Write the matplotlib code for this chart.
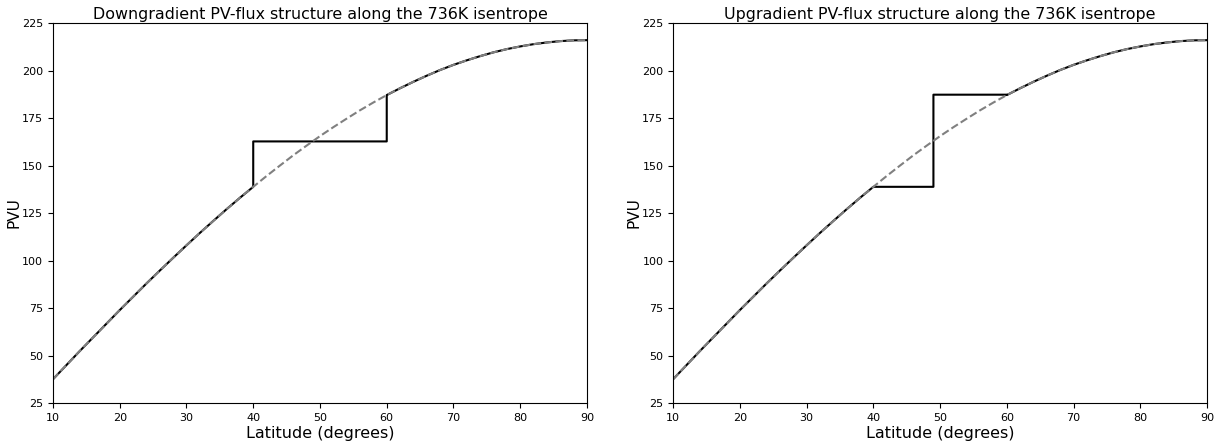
import matplotlib
matplotlib.use("Agg")
import matplotlib.pyplot as plt
import numpy as np

# background PV profile along the isentrope (PVU), every 2 degrees latitude
lat = [10, 12, 14, 16, 18, 20, 22, 24, 26, 28, 30, 32, 34, 36, 38, 40, 42, 44,
       46, 48, 50, 52, 54, 56, 58, 60, 62, 64, 66, 68, 70, 72, 74, 76, 78, 80,
       82, 84, 86, 88, 90]
pv = [37.5, 44.9, 52.3, 59.5, 66.7, 73.9, 80.9, 87.9, 94.7, 101.4, 108.0,
      114.5, 120.8, 127.0, 133.0, 138.8, 144.5, 150.0, 155.4, 160.5, 165.5,
      170.2, 174.7, 179.1, 183.2, 187.1, 190.7, 194.1, 197.3, 200.3, 203.0,
      205.4, 207.6, 209.6, 211.3, 212.7, 213.9, 214.8, 215.5, 215.9, 216.0]

# mixed region and the flattened steps
mix_lo, mix_hi = 40, 60
down_steps = [(40, 60, 162.7)]
up_steps = [(40, 49, 138.8), (49, 60, 187.3)]


def stepped(lat, pv, steps):
    x = [l for l in lat if l <= mix_lo]
    y = [p for l, p in zip(lat, pv) if l <= mix_lo]
    for a, b, v in steps:
        x += [a, b]
        y += [v, v]
    x += [l for l in lat if l >= mix_hi]
    y += [p for l, p in zip(lat, pv) if l >= mix_hi]
    return x, y


panels = [("Downgradient PV-flux structure along the 736K isentrope", down_steps),
          ("Upgradient PV-flux structure along the 736K isentrope", up_steps)]

fig = plt.figure(figsize=(12.26, 4.47), dpi=100)
lefts = [0.0432, 0.549]
for (title, steps), x0 in zip(panels, lefts):
    ax = fig.add_axes([x0, 0.0984, 0.4356, 0.850])
    sx, sy = stepped(lat, pv, steps)
    ax.plot(sx, sy, color="black", lw=1.5)
    ax.plot(lat, pv, color="gray", ls="--", lw=1.5)
    ax.set_xlim(10, 90)
    ax.set_ylim(25, 225)
    ax.set_yticks(np.arange(25, 226, 25))
    ax.tick_params(labelsize=8)
    ax.set_title(title, fontsize=11.4, pad=3)
    ax.set_xlabel("Latitude (degrees)", fontsize=11.5, labelpad=2)
    ax.set_ylabel("PVU", fontsize=11, labelpad=0.5)

fig.savefig("out.png", dpi=100)
